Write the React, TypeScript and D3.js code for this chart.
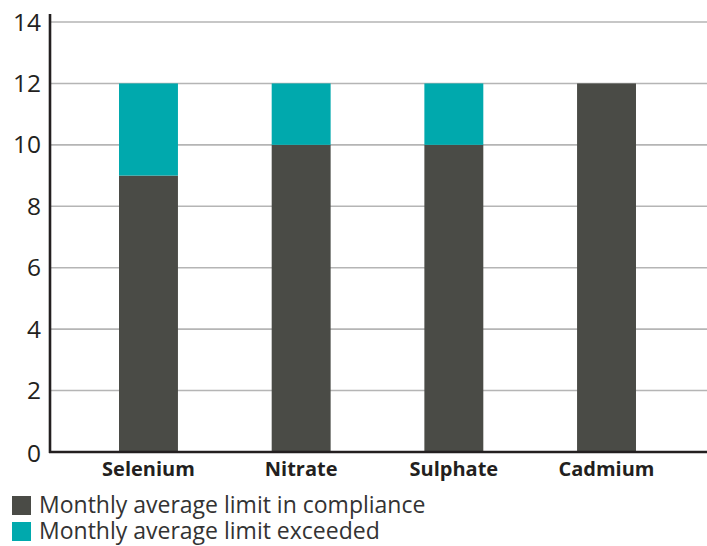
import React from "react";
import * as d3 from "d3";

// Monthly average limits per substance
const categories = ["Selenium", "Nitrate", "Sulphate", "Cadmium"];
const inCompliance = [9, 10, 10, 12];
const exceeded = [3, 2, 2, 0];
const yTicks = [0, 2, 4, 6, 8, 10, 12, 14];
const seriesNames = ["Monthly average limit in compliance", "Monthly average limit exceeded"];
const seriesColors = ["#4a4b46", "#00a9ad"];

const W = 707;
const H = 546;
const FONT = "'Open Sans', 'Noto Sans', sans-serif";

export default function App() {
  const x = d3
    .scaleBand<string>()
    .domain(categories)
    .range([50, 705])
    .paddingInner(0.614)
    .paddingOuter(0.452);
  const y = d3.scaleLinear().domain([0, 14]).range([452, 22]);

  const rows = categories.map((c, i) => ({ c, compliance: inCompliance[i], exceeded: exceeded[i] }));
  const stacked = d3.stack<any>().keys(["compliance", "exceeded"])(rows);

  return (
    <svg width={W} height={H} style={{ position: "absolute", left: 0, top: 0, background: "#fff" }}>
      {/* grid */}
      {yTicks.filter((t) => t > 0).map((t) => (
        <line key={t} x1={50} x2={W} y1={y(t)} y2={y(t)} stroke="#b5b5b5" strokeWidth={1.6} />
      ))}
      {/* bars */}
      {stacked.map((layer, li) => (
        <g key={li} fill={seriesColors[li]}>
          {layer.map((d, i) =>
            d[1] - d[0] > 0 ? (
              <rect
                key={i}
                x={x(categories[i])}
                width={x.bandwidth()}
                y={y(d[1])}
                height={y(d[0]) - y(d[1])}
              />
            ) : null
          )}
        </g>
      ))}
      {/* axes */}
      <line x1={50} x2={50} y1={14} y2={453} stroke="#231f20" strokeWidth={2.6} />
      <line x1={49} x2={W} y1={452} y2={452} stroke="#231f20" strokeWidth={2.6} />
      {yTicks.map((t) => (
        <text
          key={t}
          x={41}
          y={y(t) + (t === 0 ? 10 : 8.5)}
          textAnchor="end"
          fontFamily={FONT}
          fontSize={24.5}
          fill="#231f20"
        >
          {t}
        </text>
      ))}
      {categories.map((c) => (
        <text
          key={c}
          x={(x(c) as number) + x.bandwidth() / 2}
          y={476}
          textAnchor="middle"
          fontFamily={FONT}
          fontSize={20}
          fontWeight={700}
          fill="#231f20"
        >
          {c}
        </text>
      ))}
      {/* legend */}
      {seriesNames.map((n, i) => (
        <g key={n} transform={`translate(0, ${i * 26})`}>
          <rect x={12} y={496} width={19} height={19} fill={seriesColors[i]} />
          <text x={39} y={513} fontFamily={FONT} fontSize={23} fill="#333">
            {n}
          </text>
        </g>
      ))}
    </svg>
  );
}
